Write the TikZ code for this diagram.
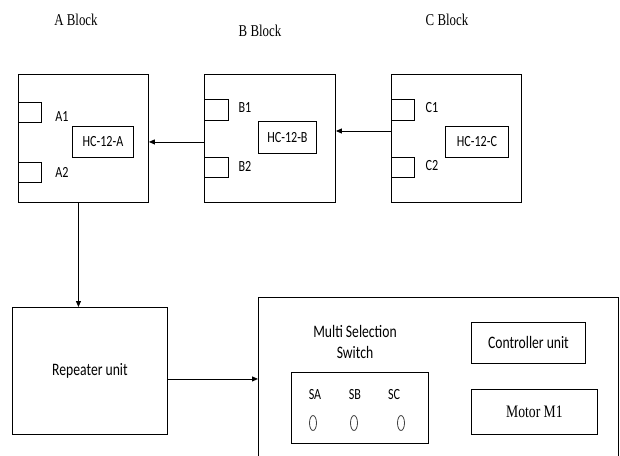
\documentclass[tikz,border=0pt]{standalone}
\usepackage{fontspec}
\setmainfont{Liberation Serif}[FakeStretch=0.78]
\newfontfamily\calib{Carlito}[FakeStretch=0.78]
\usetikzlibrary{arrows.meta}

\begin{document}
\begin{tikzpicture}[x=1pt,y=-1pt,
  blk/.style={draw, line width=0.9pt, inner sep=0pt, anchor=north west},
  lbl/.style={font=\calib\fontsize{15.5}{18}\selectfont},
  unitlbl/.style={font=\calib\fontsize{17.5}{21}\selectfont, align=center},
  ttl/.style={font=\fontsize{16.5}{19}\selectfont},
  conn/.style={line width=0.9pt, -{Triangle[length=6pt,width=5pt]}}]

\useasboundingbox (0,0) rectangle (620,455);

% block titles
{
\node[ttl] (titleA) at (76,20) {A Block};
\node[ttl] (titleB) at (260,31) {B Block};
\node[ttl] (titleC) at (447,20) {C Block};
}

% A block
{
\node[blk, minimum width=130, minimum height=128] (blockA) at (18,74) {};
\node[blk, minimum width=23, minimum height=20] (portA1) at (18,102) {};
\node[blk, minimum width=23, minimum height=20] (portA2) at (18,162) {};
\node[lbl] (labA1) at (62,117) {A1};
\node[lbl] (labA2) at (62,172) {A2};
\node[blk, lbl, minimum width=61, minimum height=31] (hcA) at (72,126) {HC-12-A};
}

% B block
{
\node[blk, minimum width=131, minimum height=128] (blockB) at (204,74) {};
\node[blk, minimum width=24, minimum height=21] (portB1) at (204,99) {};
\node[blk, minimum width=24, minimum height=20] (portB2) at (204,157) {};
\node[lbl] (labB1) at (245,108) {B1};
\node[lbl] (labB2) at (245,166) {B2};
\node[blk, lbl, minimum width=58, minimum height=32] (hcB) at (258,121) {HC-12-B};
}

% C block
{
\node[blk, minimum width=130, minimum height=128] (blockC) at (391,74) {};
\node[blk, minimum width=23, minimum height=21] (portC1) at (391,99) {};
\node[blk, minimum width=23, minimum height=20] (portC2) at (391,157) {};
\node[lbl] (labC1) at (432,108) {C1};
\node[lbl] (labC2) at (432,166) {C2};
\node[blk, lbl, minimum width=63, minimum height=31] (hcC) at (445,126) {HC-12-C};
}

% repeater and receiver side
{
\node[blk, unitlbl, minimum width=155, minimum height=127, anchor=north west] (repeater) at (12,307) {Repeater unit};

\node[blk, minimum width=360, minimum height=200] (mainbox) at (258,297) {};

\node[unitlbl] (switchlab) at (355,342) {Multi Selection\\Switch};
\node[blk, minimum width=137, minimum height=71] (switchbox) at (291,372) {};
\node[lbl] (labSA) at (315,395) {SA};
\node[lbl] (labSB) at (355,395) {SB};
\node[lbl] (labSC) at (394,395) {SC};

\node[blk, unitlbl, minimum width=114, minimum height=41] (ctrl) at (471,322) {Controller unit};
\node[blk, font=\fontsize{17.5}{20}\selectfont, minimum width=126, minimum height=45] (motor) at (471,389) {Motor M1};
}

% switch knobs
\foreach \kx in {313,354,401}
  \draw[gray!50!black, line width=0.8pt] (\kx,423) ellipse [x radius=3.5, y radius=7.5];

% arrows
{
\draw[conn] (blockC.west |- 0,131) -- (blockB.east |- 0,131);
\draw[conn] (hcA -| blockB.west) -- (hcA -| blockA.east);

\draw[conn] ([xshift=-5pt]blockA.south) coordinate (aout) -- (aout |- repeater.north);
\draw[conn] ([yshift=-8pt]repeater.east) coordinate (rout) -- (rout -| mainbox.west);
}

\end{tikzpicture}
\end{document}
